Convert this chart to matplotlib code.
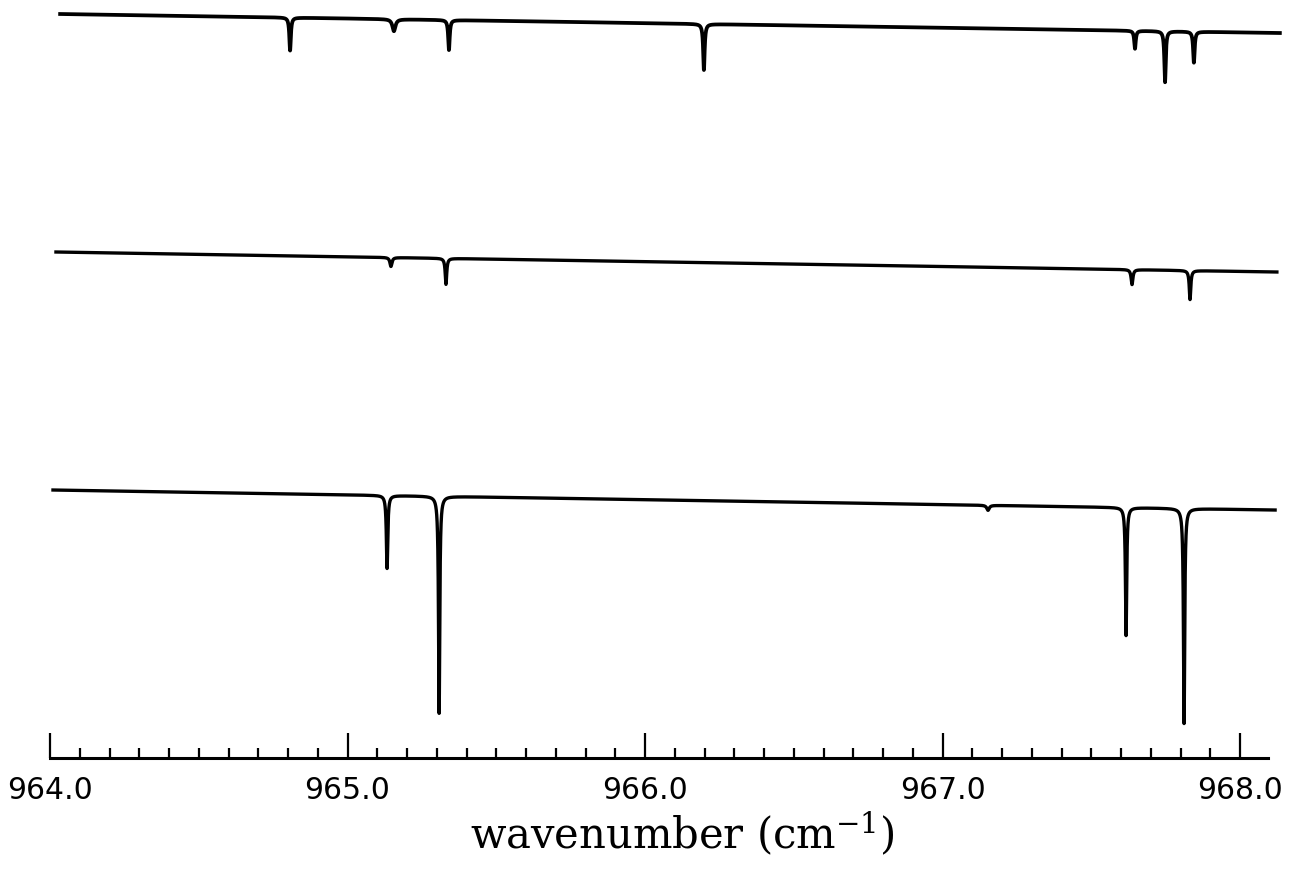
import numpy as np
import matplotlib
matplotlib.use("Agg")
import matplotlib.pyplot as plt

plt.rcParams['mathtext.fontset'] = 'dejavuserif'

# ---- data (y in arbitrary offset units) ----
# top trace
top_range = [964.034, 968.134]
top_baseline = [744, 725]
top_centers = [964.807, 965.156, 965.341, 966.198, 967.647, 967.748, 967.845]
top_depths = [33, 12, 30, 46, 18, 51, 31]
top_widths = [0.0030, 0.0060, 0.0030, 0.0030, 0.0030, 0.0028, 0.0030]

# middle trace
mid_range = [964.020, 968.124]
mid_baseline = [506, 486]
mid_centers = [965.146, 965.331, 967.637, 967.832]
mid_depths = [9, 26, 15, 29]
mid_widths = [0.0040, 0.0030, 0.0035, 0.0030]

# bottom trace
bot_range = [964.010, 968.118]
bot_baseline = [268, 248]
bot_centers = [965.133, 965.308, 967.153, 967.617, 967.812]
bot_depths = [73, 217, 5, 128, 215]
bot_widths = [0.0028, 0.0025, 0.0050, 0.0025, 0.0025]

# axis
x_major = [964.0, 965.0, 966.0, 967.0, 968.0]
x_major_labels = ["964.0", "965.0", "966.0", "967.0", "968.0"]
x_minor_step = 0.1
axis_span = [964.0, 968.094]
xlabel = "wavenumber (cm$^{-1}$)"


def spectrum(rng, base, centers, depths, widths):
    x = np.arange(rng[0], rng[1], 0.0002)
    x = np.union1d(x, np.array(centers))
    y = np.interp(x, rng, base)
    for c, d, g in zip(centers, depths, widths):
        y = y - d * g ** 2 / ((x - c) ** 2 + g ** 2)
    return x, y


fig = plt.figure(figsize=(12.89, 8.82), dpi=100)
ax = fig.add_axes([0, 124 / 882, 1, 758 / 882])

for rng, base, cen, dep, wid, lw in [
    (top_range, top_baseline, top_centers, top_depths, top_widths, 2.7),
    (mid_range, mid_baseline, mid_centers, mid_depths, mid_widths, 2.4),
    (bot_range, bot_baseline, bot_centers, bot_depths, bot_widths, 2.4),
]:
    x, y = spectrum(rng, base, cen, dep, wid)
    ax.plot(x, y, color="black", lw=lw, clip_on=False, solid_joinstyle="round")

ax.set_xlim(964 - 50 / 297.5, 964 + 1239 / 297.5)
ax.set_ylim(0, 758)

for s in ["left", "right", "top"]:
    ax.spines[s].set_visible(False)
ax.spines["bottom"].set_bounds(*axis_span)
ax.spines["bottom"].set_linewidth(2.2)
ax.set_yticks([])

ax.set_xticks(x_major)
ax.set_xticklabels(x_major_labels, fontsize=21.5, family="DejaVu Sans")
minor = np.arange(x_major[0], axis_span[1], x_minor_step)
ax.set_xticks(minor, minor=True)
ax.tick_params(axis="x", which="major", direction="in", length=18, width=1.6, pad=13)
ax.tick_params(axis="x", which="minor", direction="in", length=7.5, width=1.6)

ax.set_xlabel(xlabel, fontsize=30, family="DejaVu Serif")
ax.xaxis.set_label_coords(0.529, -0.068)

fig.savefig("out.png", dpi=100)
